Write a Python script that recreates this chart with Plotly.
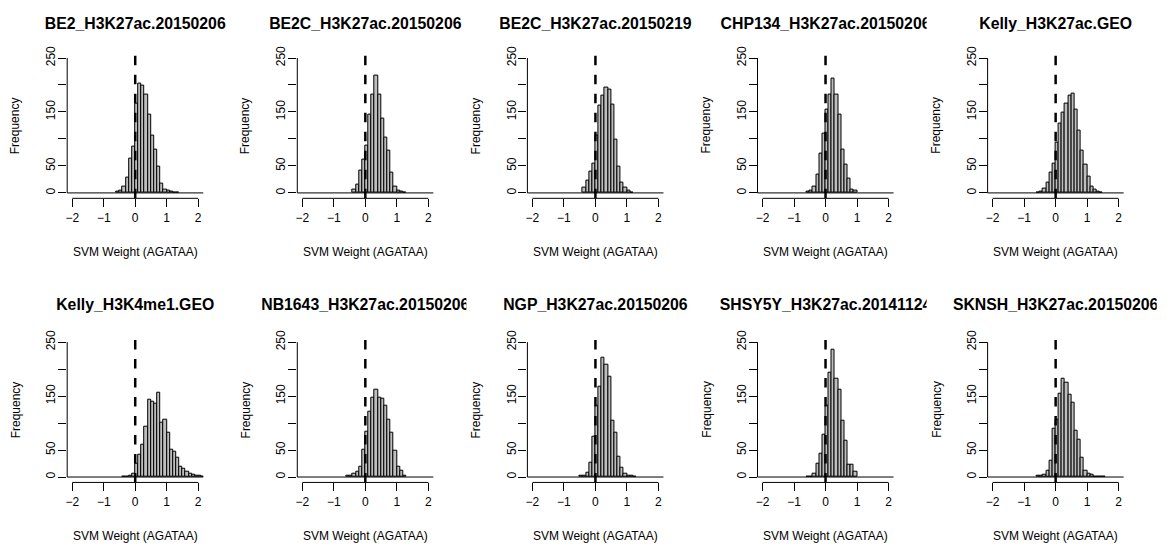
import plotly.graph_objects as go

W, H = 1166, 546
BIN_WIDTH = 0.1

titles = [
    "BE2_H3K27ac.20150206", "BE2C_H3K27ac.20150206", "BE2C_H3K27ac.20150219",
    "CHP134_H3K27ac.20150206", "Kelly_H3K27ac.GEO", "Kelly_H3K4me1.GEO",
    "NB1643_H3K27ac.20150206", "NGP_H3K27ac.20150206", "SHSY5Y_H3K27ac.20141124",
    "SKNSH_H3K27ac.20150206",
]

# Left edge of the first occupied 0.1-wide bin, and the counts per bin.
be2_start = -0.6
be2_counts = [2, 4, 11, 29, 64, 85, 166, 202, 198, 183, 146, 107, 81, 49, 17, 7, 4, 2, 1, 1]
be2c_a_start = -0.4
be2c_a_counts = [7, 15, 41, 61, 88, 146, 183, 218, 183, 137, 102, 79, 37, 12, 4, 2, 1]
be2c_b_start = -0.4
be2c_b_counts = [10, 23, 40, 55, 107, 162, 180, 196, 192, 163, 98, 48, 20, 9, 4, 1]
chp134_start = -0.6
chp134_counts = [3, 5, 12, 34, 72, 110, 154, 183, 212, 183, 145, 81, 53, 27, 7, 5]
kelly_ac_start = -0.6
kelly_ac_counts = [1, 3, 8, 20, 37, 55, 93, 128, 148, 165, 180, 184, 155, 116, 78, 52, 30, 12, 6, 3, 1]
kelly_me1_start = -0.4
kelly_me1_counts = [1, 1, 2, 7, 24, 41, 59, 94, 144, 140, 136, 156, 101, 107, 83, 50, 47, 35, 19, 15,
                    9, 6, 4, 3, 2, 1]
nb1643_start = -0.6
nb1643_counts = [2, 3, 6, 10, 20, 50, 84, 121, 147, 161, 147, 146, 132, 106, 82, 49, 20, 12, 3]
ngp_start = -0.5
ngp_counts = [2, 3, 8, 27, 75, 133, 167, 221, 209, 185, 105, 82, 38, 18, 7, 3, 2, 1]
shsy5y_start = -0.6
shsy5y_counts = [1, 1, 7, 25, 44, 79, 132, 194, 235, 182, 161, 105, 67, 23, 22, 9]
sknsh_start = -0.6
sknsh_counts = [2, 3, 5, 12, 30, 90, 106, 155, 182, 175, 152, 137, 85, 70, 35, 12, 7, 5, 1, 0, 0, 1]

panels = [
    (be2_start, be2_counts), (be2c_a_start, be2c_a_counts), (be2c_b_start, be2c_b_counts),
    (chp134_start, chp134_counts), (kelly_ac_start, kelly_ac_counts),
    (kelly_me1_start, kelly_me1_counts), (nb1643_start, nb1643_counts), (ngp_start, ngp_counts),
    (shsy5y_start, shsy5y_counts), (sknsh_start, sknsh_counts),
]

x_ticks = [-2, -1, 0, 1, 2]
y_ticks = [0, 50, 100, 150, 200, 250]
y_tick_text = ["0", "50", "", "150", "", "250"]
X_RANGE = [-2.16, 2.16]
Y_RANGE = [-10, 260]

FONT = "Liberation Sans, Arial, Helvetica, sans-serif"

# pixel geometry of the 5 x 2 grid of plot regions
col_left = [65.3 + 230.5 * c for c in range(5)]
region_w = 136.3
row_top = [46.2, 334.0]
row_bottom = [193.8, 481.6]
title_mid = [18.4, 303.4]
xtitle_mid = [248.0, 536.0]
# each panel's outer region; titles are clipped to it
fig_left = [0.0, 234.7, 465.2, 695.7, 926.2]
fig_right = [234.7, 465.2, 695.7, 926.2, 1156.7]


def px(x):
    return x / W


def py(y):
    return 1 - y / H


fig = go.Figure()
layout = dict(
    width=W, height=H, margin=dict(l=0, r=0, t=0, b=0),
    paper_bgcolor="white", plot_bgcolor="white", showlegend=False,
    bargap=0, font=dict(family=FONT, size=12, color="black"),
)
shapes, annotations = [], []

for i, (start, counts) in enumerate(panels):
    r, c = divmod(i, 5)
    n = i + 1
    xa, ya = f"x{n}" if n > 1 else "x", f"y{n}" if n > 1 else "y"
    xkey, ykey = f"xaxis{n}" if n > 1 else "xaxis", f"yaxis{n}" if n > 1 else "yaxis"

    left = col_left[c]
    xdom = [px(left), px(left + region_w)]
    ydom = [py(row_bottom[r]), py(row_top[r])]

    centers = [start + (k + 0.5) * BIN_WIDTH for k in range(len(counts))]
    fig.add_trace(go.Bar(
        x=centers, y=counts, width=BIN_WIDTH, xaxis=xa, yaxis=ya,
        marker=dict(color="#BEBEBE", line=dict(color="black", width=1)),
        hoverinfo="x+y",
    ))

    layout[xkey] = dict(
        domain=xdom, anchor=ya, range=X_RANGE, showgrid=False, zeroline=False,
        showline=False, ticks="outside", ticklen=8, tickwidth=1, tickcolor="black",
        tickvals=x_ticks, ticklabelstandoff=0,
        tickfont=dict(family=FONT, size=12, color="black"), fixedrange=True,
    )
    layout[ykey] = dict(
        domain=ydom, anchor=xa, range=Y_RANGE, showgrid=False, zeroline=False,
        showline=False, ticks="outside", ticklen=8, tickwidth=1, tickcolor="black",
        tickvals=y_ticks, ticktext=y_tick_text, tickangle=-90, ticklabelstandoff=-2,
        tickfont=dict(family=FONT, size=12, color="black"), fixedrange=True,
    )

    # axis lines spanning only the tick range, plus the histogram baseline
    shapes.append(dict(type="line", xref=f"{xa} domain", yref=ya, x0=0, x1=0, y0=0, y1=250,
                       line=dict(color="black", width=1)))
    shapes.append(dict(type="line", xref=xa, yref=f"{ya} domain", x0=-2, x1=2, y0=0, y1=0,
                       line=dict(color="black", width=1)))
    shapes.append(dict(type="line", xref=f"{xa} domain", yref=ya, x0=0, x1=1, y0=0, y1=0,
                       line=dict(color="black", width=1)))
    # dashed reference line at zero weight
    shapes.append(dict(type="line", xref=xa, yref=f"{ya} domain", x0=0, x1=0, y0=0, y1=1,
                       layer="above", line=dict(color="black", width=2.5, dash="9.5px,9.5px")))

    # panel title: a text trace on its own hidden axes, clipped to the panel's outer region
    m = n + 10
    tx, ty = f"x{m}", f"y{m}"
    layout[f"xaxis{m}"] = dict(domain=[px(fig_left[c]), px(fig_right[c])], anchor=ty,
                               range=[fig_left[c], fig_right[c]], visible=False, fixedrange=True)
    layout[f"yaxis{m}"] = dict(domain=[py(title_mid[r] + 14), py(title_mid[r] - 14)], anchor=tx,
                               range=[title_mid[r] + 14, title_mid[r] - 14], visible=False,
                               fixedrange=True)
    fig.add_trace(go.Scatter(
        x=[left + region_w / 2], y=[title_mid[r]], xaxis=tx, yaxis=ty, mode="text",
        text=[f"<b>{titles[i]}</b>"], textposition="middle center", cliponaxis=True,
        textfont=dict(family=FONT, size=15.8, color="black"), hoverinfo="skip",
    ))

    cx = px(left + region_w / 2)
    annotations.append(dict(text="SVM Weight (AGATAA)", xref="paper", yref="paper",
                            x=cx, y=py(xtitle_mid[r]), xanchor="center", yanchor="middle",
                            showarrow=False, font=dict(family=FONT, size=12, color="black")))
    annotations.append(dict(text="Frequency", xref="paper", yref="paper",
                            x=px(left - 51.5), y=py((row_top[r] + row_bottom[r]) / 2),
                            xanchor="center", yanchor="middle", textangle=-90,
                            showarrow=False, font=dict(family=FONT, size=12, color="black")))

layout["shapes"] = shapes
layout["annotations"] = annotations
fig.update_layout(**layout)
fig.write_html("out.html")
